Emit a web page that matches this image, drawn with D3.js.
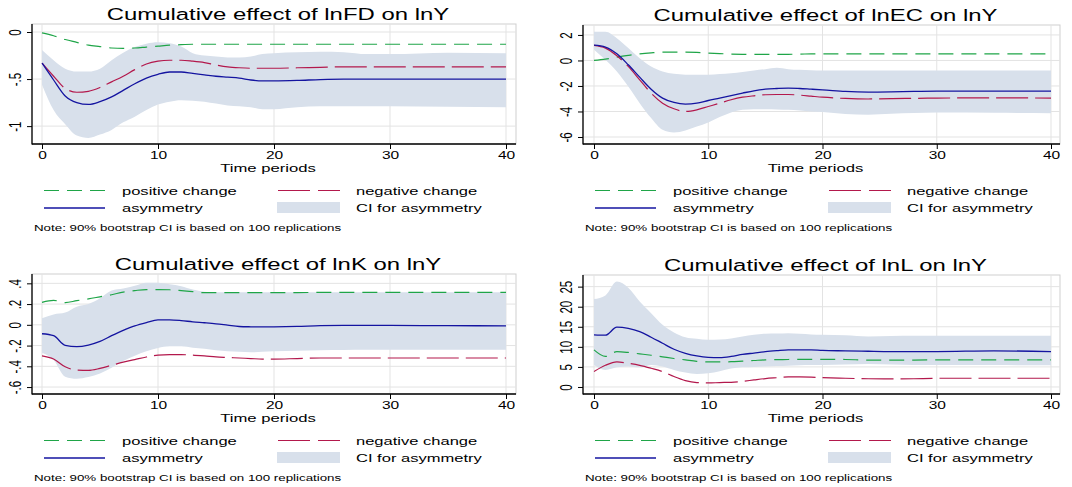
<!DOCTYPE html>
<html>
<head>
<meta charset="utf-8">
<script src="https://cdn.jsdelivr.net/npm/d3@7"></script>
<style>
  body { margin: 0; background: #fff; }
  text { font-family: "Liberation Sans", Arial, sans-serif; fill: #000; }
</style>
</head>
<body>
<svg id="chart"></svg>
<script>
var WIDTH = 1072, HEIGHT = 487;
var SX = 1.45; // the original picture is stretched sideways, text too

// time periods the values were read at
var periods = [0,1,2,3,4,5,6,7,8,9,10,11,12,13,14,15,16,17,18,19,20,22,24,26,28,30,35,40];
var xTicks = [0, 10, 20, 30, 40];

// lnFD
var fdPos  = [-0.01,-0.04,-0.08,-0.11,-0.14,-0.155,-0.17,-0.175,-0.17,-0.16,-0.15,-0.14,-0.135,-0.13,-0.13,-0.13,-0.13,-0.13,-0.13,-0.13,-0.13,-0.13,-0.13,-0.13,-0.13,-0.13,-0.13,-0.13];
var fdNeg  = [-0.33,-0.47,-0.60,-0.64,-0.63,-0.59,-0.53,-0.47,-0.40,-0.34,-0.31,-0.30,-0.30,-0.31,-0.325,-0.35,-0.37,-0.38,-0.385,-0.385,-0.385,-0.38,-0.375,-0.37,-0.37,-0.37,-0.37,-0.37];
var fdAsym = [-0.33,-0.51,-0.68,-0.75,-0.77,-0.74,-0.69,-0.62,-0.55,-0.49,-0.45,-0.425,-0.425,-0.44,-0.455,-0.47,-0.48,-0.49,-0.51,-0.52,-0.52,-0.515,-0.505,-0.50,-0.50,-0.50,-0.50,-0.50];
var fdHi   = [-0.19,-0.30,-0.39,-0.42,-0.42,-0.39,-0.30,-0.22,-0.16,-0.125,-0.11,-0.12,-0.155,-0.225,-0.25,-0.26,-0.27,-0.27,-0.26,-0.235,-0.225,-0.215,-0.21,-0.215,-0.235,-0.235,-0.22,-0.225];
var fdLo   = [-0.56,-0.83,-0.98,-1.10,-1.125,-1.09,-1.04,-0.96,-0.90,-0.83,-0.77,-0.74,-0.725,-0.73,-0.74,-0.76,-0.78,-0.79,-0.80,-0.82,-0.82,-0.80,-0.79,-0.79,-0.79,-0.79,-0.795,-0.80];
var fdTicks = [0, -0.5, -1];

// lnEC
var ecPos  = [0,0.1,0.26,0.4,0.52,0.6,0.65,0.65,0.65,0.63,0.58,0.54,0.5,0.48,0.47,0.47,0.47,0.48,0.5,0.51,0.52,0.52,0.52,0.52,0.52,0.52,0.52,0.52];
var ecNeg  = [1.18,0.97,0.37,-0.47,-1.52,-2.56,-3.35,-3.79,-4.0,-3.87,-3.61,-3.35,-3.08,-2.88,-2.77,-2.69,-2.67,-2.67,-2.72,-2.8,-2.88,-2.98,-3.02,-3.0,-2.97,-2.95,-2.93,-2.95];
var ecAsym = [1.2,1.05,0.52,-0.34,-1.31,-2.25,-2.95,-3.29,-3.42,-3.35,-3.14,-2.95,-2.75,-2.56,-2.38,-2.25,-2.2,-2.17,-2.2,-2.25,-2.3,-2.43,-2.48,-2.46,-2.42,-2.4,-2.4,-2.4];
var ecHi   = [2.25,2.25,1.75,0.97,0.18,-0.47,-0.86,-1.05,-1.12,-1.13,-1.12,-1.06,-1.0,-0.9,-0.78,-0.68,-0.58,-0.68,-0.73,-0.76,-0.78,-0.78,-0.78,-0.78,-0.78,-0.78,-0.78,-0.78];
var ecLo   = [0.84,0.05,-0.86,-2.04,-3.35,-4.52,-5.44,-5.65,-5.49,-5.18,-4.86,-4.44,-4.08,-3.87,-3.83,-3.82,-3.84,-3.87,-3.93,-4.0,-4.05,-4.2,-4.25,-4.18,-4.12,-4.08,-4.1,-4.13];
var ecTicks = [2, 0, -2, -4, -6];

// lnK
var kPos  = [0.217,0.236,0.214,0.233,0.25,0.27,0.29,0.316,0.33,0.34,0.34,0.338,0.33,0.32,0.31,0.31,0.31,0.31,0.31,0.31,0.31,0.31,0.313,0.313,0.313,0.313,0.313,0.313];
var kNeg  = [-0.30,-0.33,-0.405,-0.437,-0.44,-0.42,-0.39,-0.36,-0.335,-0.31,-0.293,-0.287,-0.287,-0.293,-0.30,-0.31,-0.315,-0.32,-0.325,-0.33,-0.33,-0.325,-0.32,-0.32,-0.32,-0.32,-0.32,-0.32];
var kAsym = [-0.086,-0.105,-0.198,-0.21,-0.195,-0.16,-0.105,-0.054,-0.01,0.022,0.048,0.048,0.041,0.029,0.02,0.01,-0.003,-0.016,-0.019,-0.02,-0.019,-0.015,-0.008,-0.006,-0.006,-0.006,-0.008,-0.01];
var kHi   = [0.064,0.10,0.118,0.175,0.2,0.255,0.33,0.35,0.376,0.405,0.405,0.39,0.373,0.34,0.32,0.313,0.313,0.313,0.313,0.313,0.313,0.313,0.313,0.313,0.313,0.313,0.313,0.313];
var kLo   = [-0.27,-0.34,-0.50,-0.52,-0.504,-0.47,-0.415,-0.35,-0.297,-0.255,-0.223,-0.207,-0.207,-0.22,-0.23,-0.245,-0.255,-0.26,-0.265,-0.26,-0.255,-0.25,-0.245,-0.243,-0.24,-0.24,-0.24,-0.24];
var kTicks = [0.4, 0.2, 0, -0.2, -0.4, -0.6];

// lnL
var lPos  = [9.25,7.6,8.8,8.6,8.25,7.9,7.5,7.1,6.75,6.4,6.25,6.25,6.3,6.45,6.6,6.75,6.8,6.85,6.9,6.9,6.9,6.85,6.7,6.67,6.7,6.75,6.75,6.75];
var lNeg  = [3.83,5.4,6.25,5.9,5.4,4.67,3.83,2.6,1.6,1.1,1.0,1.1,1.17,1.4,1.75,2.08,2.3,2.5,2.5,2.45,2.33,2.17,2.05,2.0,2.05,2.17,2.17,2.17];
var lAsym = [13.0,12.9,14.9,14.6,13.8,12.4,10.9,9.4,8.4,7.75,7.4,7.33,7.6,8.1,8.45,8.8,9.05,9.25,9.25,9.25,9.1,9.0,8.9,8.83,8.83,8.83,9.0,8.83];
var lHi   = [21.9,22.8,26.25,24.7,21.3,18.4,15.5,13.6,12.4,12.0,11.75,11.8,12.1,12.6,13.0,13.25,13.3,13.4,13.25,13.1,13.0,12.9,12.6,12.7,12.75,12.75,12.75,12.75];
var lLo   = [5.5,4.25,4.9,5.1,4.9,5.5,5.1,4.25,3.6,3.25,3.4,3.9,4.6,4.9,5.0,5.1,5.2,5.3,5.4,5.45,5.5,5.6,5.75,5.6,5.5,5.5,5.45,5.4];
var lTicks = [0, 5, 10, 15, 20, 25];

var legendLabels = ["positive change", "negative change", "asymmetry", "CI for asymmetry"];
var noteText = "Note: 90% bootstrap CI is based on 100 replications";

var GREEN = "#1fa548", MAROON = "#b3184c", NAVY = "#1414a0", CI = "#d8e0eb", GRID = "#e3e3e3";

var panels = [
  {title: "Cumulative effect of lnFD on lnY", pos: fdPos, neg: fdNeg, asym: fdAsym, hi: fdHi, lo: fdLo, ticks: fdTicks,
   box: {l: 32, r: 516, t: 24, b: 144}, xr: [42, 506], yd: [-1.19, 0.085]},
  {title: "Cumulative effect of lnEC on lnY", pos: ecPos, neg: ecNeg, asym: ecAsym, hi: ecHi, lo: ecLo, ticks: ecTicks,
   box: {l: 583, r: 1060, t: 25, b: 144}, xr: [594, 1051], yd: [-6.55, 2.78]},
  {title: "Cumulative effect of lnK on lnY", pos: kPos, neg: kNeg, asym: kAsym, hi: kHi, lo: kLo, ticks: kTicks,
   box: {l: 32, r: 516, t: 274, b: 394}, xr: [42, 506], yd: [-0.667, 0.49]},
  {title: "Cumulative effect of lnL on lnY", pos: lPos, neg: lNeg, asym: lAsym, hi: lHi, lo: lLo, ticks: lTicks,
   box: {l: 583, r: 1060, t: 275, b: 394}, xr: [594, 1051], yd: [-1.75, 27.9]}
];

var svg = d3.select("#chart")
  .attr("width", WIDTH)
  .attr("height", HEIGHT);

/* stata style labels: .4 instead of 0.4 */
function fmt(v) {
  return String(v).replace(/^(-?)0\./, "$1.");
}

function stretched(sel, x, y, size, anchor, rot) {
  return sel
    .attr("transform", "translate(" + x + "," + y + ") scale(" + SX + ",1)" + (rot ? " rotate(" + rot + ")" : ""))
    .attr("x", 0).attr("y", 0).attr("dy", 0)
    .attr("text-anchor", anchor)
    .style("font-size", size + "px");
}

panels.forEach(function(p) {
  var b = p.box;
  var xScale = d3.scaleLinear().domain([0, 40]).range(p.xr);
  var yScale = d3.scaleLinear().domain(p.yd).range([b.b, b.t]);
  var g = svg.append("g");

  g.append("rect")
    .attr("x", b.l).attr("y", b.t)
    .attr("width", b.r - b.l).attr("height", b.b - b.t)
    .style("fill", "#fff")
    .style("stroke", "#cfcfcf");

  // grid
  g.selectAll(".vgrid").data(xTicks).enter().append("line")
    .attr("x1", d => xScale(d)).attr("x2", d => xScale(d))
    .attr("y1", b.t).attr("y2", b.b)
    .style("stroke", GRID).style("stroke-width", 1);
  g.selectAll(".hgrid").data(p.ticks).enter().append("line")
    .attr("x1", b.l).attr("x2", b.r)
    .attr("y1", d => yScale(d)).attr("y2", d => yScale(d))
    .style("stroke", GRID).style("stroke-width", 1);

  var rows = periods.map(function(t, i) {
    return {t: t, pos: p.pos[i], neg: p.neg[i], asym: p.asym[i], hi: p.hi[i], lo: p.lo[i]};
  });

  var area = d3.area()
    .x(d => xScale(d.t))
    .y0(d => yScale(d.lo))
    .y1(d => yScale(d.hi))
    .curve(d3.curveMonotoneX);

  g.append("path")
    .attr("d", area(rows))
    .style("fill", CI);

  function line(key) {
    return d3.line().x(d => xScale(d.t)).y(d => yScale(d[key])).curve(d3.curveMonotoneX)(rows);
  }

  g.append("path").attr("d", line("pos"))
    .style("fill", "none").style("stroke", GREEN).style("stroke-width", 1.2)
    .style("stroke-dasharray", "15,8");
  g.append("path").attr("d", line("neg"))
    .style("fill", "none").style("stroke", MAROON).style("stroke-width", 1.2)
    .style("stroke-dasharray", "32,7");
  g.append("path").attr("d", line("asym"))
    .style("fill", "none").style("stroke", NAVY).style("stroke-width", 1.3);

  // axes
  var yAxis = g.append("g")
    .attr("transform", "translate(" + b.l + ",0)")
    .call(d3.axisLeft(yScale).tickValues(p.ticks).tickSize(5).tickSizeOuter(0).tickFormat(fmt))
    .call(a => a.select(".domain").remove());
  yAxis.selectAll("line").style("stroke", "#000");
  yAxis.selectAll("text").each(function() {
    stretched(d3.select(this), -11.5, 0, 11.5, "middle", -90);
  });

  var xAxis = g.append("g")
    .attr("transform", "translate(0," + b.b + ")")
    .call(d3.axisBottom(xScale).tickValues(xTicks).tickSize(5).tickSizeOuter(0))
    .call(a => a.select(".domain").remove());
  xAxis.selectAll("line").style("stroke", "#000");
  xAxis.selectAll("text").each(function() {
    stretched(d3.select(this), 0, 14.5, 10.7, "middle");
  });

  g.append("line")
    .attr("x1", b.l).attr("x2", b.l).attr("y1", b.t).attr("y2", b.b + 0.5)
    .style("stroke", "#000").style("stroke-width", 1.3);
  g.append("line")
    .attr("x1", b.l).attr("x2", b.r).attr("y1", b.b).attr("y2", b.b)
    .style("stroke", "#000").style("stroke-width", 1.3);

  stretched(g.append("text").text(p.title), (b.l + b.r) / 2 + 4, b.t - 4.5, 16.5, "middle");
  stretched(g.append("text").text("Time periods"), (b.l + b.r) / 2 - 6, b.b + 27.5, 11.5, "middle");

  // legend
  var r1 = b.b + 46.5, r2 = b.b + 64;
  var lg = g.append("g").attr("transform", "translate(" + b.l + ",0)");
  lg.append("line").attr("x1", 12).attr("x2", 73).attr("y1", r1).attr("y2", r1)
    .style("stroke", GREEN).style("stroke-width", 1.2).style("stroke-dasharray", "15,8");
  lg.append("line").attr("x1", 246).attr("x2", 308).attr("y1", r1).attr("y2", r1)
    .style("stroke", MAROON).style("stroke-width", 1.2).style("stroke-dasharray", "32,8");
  lg.append("line").attr("x1", 12).attr("x2", 73).attr("y1", r2).attr("y2", r2)
    .style("stroke", NAVY).style("stroke-width", 1.3);
  lg.append("rect").attr("x", 245).attr("y", r2 - 6).attr("width", 63).attr("height", 11)
    .style("fill", CI);
  stretched(lg.append("text").text(legendLabels[0]), 90, r1 + 4, 11.4, "start");
  stretched(lg.append("text").text(legendLabels[1]), 324, r1 + 4, 11.4, "start");
  stretched(lg.append("text").text(legendLabels[2]), 90, r2 + 4, 11.4, "start");
  stretched(lg.append("text").text(legendLabels[3]), 324, r2 + 4, 11.4, "start");
  stretched(lg.append("text").text(noteText), 2, b.b + 87, 9.2, "start");
});
</script>
</body>
</html>
